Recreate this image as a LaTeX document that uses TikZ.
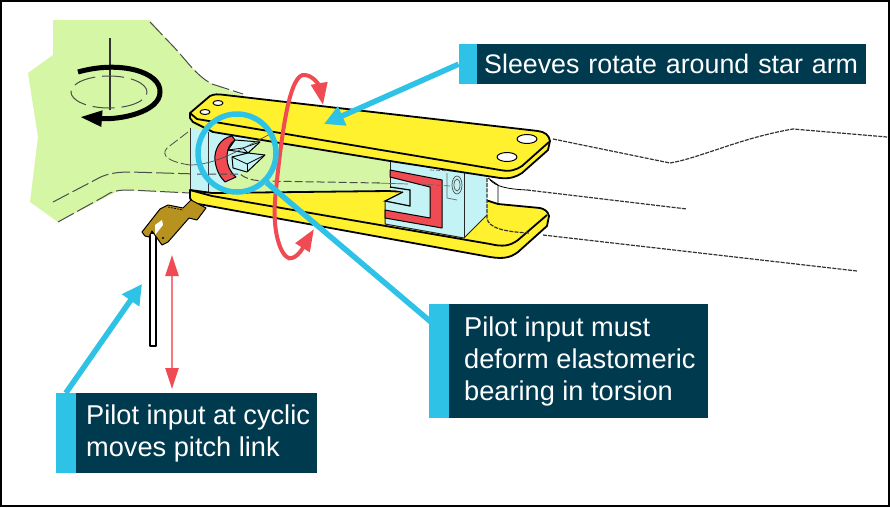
\documentclass[tikz,border=0pt]{standalone}
\usepackage{fontspec}
\setmainfont{Liberation Sans}
\usetikzlibrary{positioning,arrows.meta,shapes,backgrounds,fit}
\definecolor{hubgreen}{HTML}{D5F6A4}
\definecolor{armyellow}{HTML}{FFF12E}
\definecolor{bearingred}{HTML}{F04B52}
\definecolor{blockblue}{HTML}{C4F3F6}
\definecolor{hornbrown}{HTML}{B8921F}
\definecolor{calloutcyan}{HTML}{2EC3E6}
\definecolor{calloutnavy}{HTML}{003A4F}
\begin{document}
\begin{tikzpicture}[
        x=1pt, y=-1pt,
        part/.style={draw=black, line width=1.8pt, line join=round},
        dashline/.style={draw=black!80, line width=1.2pt, dash pattern=on 4pt off 1.2pt},
        longdash/.style={draw=black!70, line width=1pt, dash pattern=on 18pt off 4pt},
        callout/.style={fill=calloutnavy, text=white, font=\fontsize{27.2}{32}\selectfont, align=left, inner sep=0pt, anchor=north west},
        calloutbar/.style={fill=calloutcyan, inner sep=0pt, minimum width=18pt},
        calloutarrow/.style={draw=calloutcyan, line width=5.5pt, -{Triangle[width=20pt,length=20pt]}},
        redarrow/.style={draw=bearingred, line width=4pt, -{Triangle[width=16pt,length=22pt]}}
    ]
    \useasboundingbox (0,0) rectangle (890,507);
    \fill[white] (0,0) rectangle (890,507);

    % Hub
    \fill[hubgreen] (53,20) -- (150,20) -- (170,43) .. controls (185,58) and (195,75) .. (212,84) -- (250,98) -- (250,190) -- (190,193) -- (120,190) -- (58,222) -- (30,202) -- (38,137) -- (28,73) -- (53,55) -- cycle;
    \draw[longdash] (150,22) -- (170,43) .. controls (185,58) and (195,75) .. (212,84) -- (243,94);
    \draw[longdash] (53,202) -- (95,180) .. controls (105,174) and (115,172) .. (130,172) -- (197,174);
    \draw[longdash] (58,222) -- (105,196) .. controls (112,191) and (118,190) .. (130,190) -- (190,193);

    % Rotation sign
    \draw[black!80, line width=1.2pt] (110,38) -- (110,110);
    \draw[longdash, dash pattern=on 22pt off 7pt] (109,92) ellipse (38pt and 16pt);
    \draw[line width=5pt, -{Triangle[width=15pt,length=22pt]}] (78,72) .. controls (120,60) and (161,72) .. (160,92) .. controls (160,112) and (120,120) .. (80,117);

    % Sleeve opening
    \fill[hubgreen] (205,125) -- (395,160) -- (395,195) -- (205,195) -- cycle;
    \fill[blockblue] (190,128) -- (250,137) -- (240,175) -- (222,186) -- (208,195) -- (190,198) -- cycle;
    \draw[black!80, line width=0.8pt] (190,128) -- (190,198);
    \draw[black!80, line width=0.8pt] (208,132) -- (208,195);

    % Lower arm
    \draw[part, fill=armyellow] (190,190) -- (190,198) -- (193,203) -- (490,257) .. controls (503,259) and (510,258) .. (518,252) -- (547,226) -- (549,216) .. controls (548,211) and (544,209) .. (540,208) -- (498,204) -- (470,195) -- (388,191) -- (212,193) -- cycle;
    \draw[part] (190,190) -- (212,196) -- (490,244) .. controls (503,247) and (510,246) .. (518,240) -- (547,215);

    % Spindle block
    \path[fill=blockblue] (390,161) -- (463,173) -- (487,177) -- (487,215) -- (464,238) -- (385,224) -- (385,201) -- (403,192) -- (390,188) -- cycle;
    \draw[black!85, line width=1pt] (390,161) -- (390,188);
    \draw[black!85, line width=1pt] (385,201) -- (385,224) -- (464,238) -- (487,215);
    \draw[black!85, line width=1pt] (464,173) -- (464,238);
    \draw[part, fill=bearingred, line width=1pt] (390,170) -- (442,180) -- (442,228) -- (385,218) -- (385,210) -- (430,218) -- (430,187) -- (390,177) -- cycle;
    \draw[black, line width=1.2pt] (390,187) -- (410,190) -- (410,206) -- (385,201) -- (403,192);
    \draw[black!70, line width=0.7pt] (457,185) ellipse (5pt and 9pt);
    \draw[black!70, line width=0.7pt] (457,185) ellipse (3pt and 6pt);
    \draw[black!60, line width=0.7pt] (447,173) -- (447,198) -- (457,200);
    \draw[black!60, line width=0.7pt, dash pattern=on 4pt off 2pt] (430,170) -- (452,171);
    \draw[black!60, line width=0.7pt] (377,183) -- (408,184);
    \draw[black!60, line width=0.7pt, dash pattern=on 6pt off 2pt] (420,184) -- (450,186);

    % Thin and dashed detail on the right
    \draw[black, line width=0.8pt] (488,178) -- (498,185) -- (498,204);
    \draw[black, line width=0.8pt] (490,180) .. controls (496,186) and (505,189) .. (527,190);
    \draw[dashline] (527,190) -- (687,209);
    \draw[dashline] (487,178) -- (487,218) .. controls (488,228) and (505,232) .. (530,233);
    \draw[dashline] (543,235) -- (857,271);
    \draw[dashline] (553,139) -- (670,163) .. controls (700,158) and (740,138) .. (793,129) -- (887,137);

    % Upper arm
    \draw[part, fill=armyellow] (190,113) -- (190,118) -- (193,122) -- (213,132) -- (390,161) -- (500,178) .. controls (510,179) and (516,177) .. (522,173) -- (548,150) -- (550,141) .. controls (549,135) and (545,132) .. (538,131) -- (225,95) .. controls (218,94) and (214,94) .. (210,96) -- cycle;
    \draw[part] (190,113) -- (197,119) -- (500,170) .. controls (510,172) and (516,170) .. (522,166) -- (549,142);
    \draw[part, fill=white, line width=1pt] (218,103) ellipse (5pt and 2.5pt);
    \draw[part, fill=white, line width=1pt] (205,112) ellipse (5pt and 2.5pt);
    \draw[part, fill=white, line width=1pt] (527,139) ellipse (10pt and 4.5pt);
    \draw[part, fill=white, line width=1pt] (507,157) ellipse (10pt and 4.5pt);

    % Bearing under the ring
    \draw[part, fill=bearingred, line width=1pt] (232,136) .. controls (220,138) and (214,150) .. (215,160) .. controls (216,170) and (220,177) .. (225,182) -- (236,177) .. controls (230,172) and (227,165) .. (227,158) .. controls (227,150) and (229,144) .. (235,140) -- cycle;
    \draw[part, fill=blockblue, line width=1pt] (228,150) -- (235,140) -- (260,142) -- (248,153) -- (265,155) -- (247,172) -- (233,168) -- (232,157) -- (248,153) -- cycle;
    \draw[black, line width=0.8pt] (228,150) -- (243,148) -- (260,142);
    \draw[black, line width=0.8pt] (243,148) -- (248,153);
    \draw[black, line width=0.8pt] (232,157) -- (247,164) -- (265,155);
    \draw[black, line width=0.8pt] (247,164) -- (247,172);
    \draw[black!70, line width=0.7pt] (190,165) .. controls (215,165) and (240,150) .. (272,133);
    \draw[longdash, dash pattern=on 8pt off 3pt] (197,174) -- (240,174) .. controls (245,178) and (250,180) .. (262,181) -- (380,183);
    \draw[black!70, dash pattern=on 10pt off 3pt, line width=0.8pt] (188,132) -- (167,148) .. controls (160,156) and (170,162) .. (190,165);

    % Pitch horn and link
    \draw[part, fill=white, line width=1.1pt] (150,233) rectangle (156,346);
    \draw[black, line width=1pt, fill=hornbrown, line join=round] (142,232) -- (160,209) -- (168,205) -- (183,208) -- (191,200) -- (206,208) -- (197,220) -- (189,218) -- (168,242) -- (162,245) -- (157,238) -- (152,231) -- (149,237) -- (145,236) -- cycle;
    \fill[white] (155,225) -- (162,220) -- (163,225) -- (155,235) -- cycle;
    \draw[black, line width=0.7pt, dash pattern=on 2pt off 1pt] (168,207) -- (183,210);
    \fill[black] (163,238) circle (1.2pt);

    % Red motion arrows
    \draw[redarrow] (276,190) .. controls (282,130) and (290,72) .. (305,75) .. controls (315,76) and (320,88) .. (323,105);
    \draw[redarrow] (276,190) .. controls (270,240) and (285,262) .. (292,258) .. controls (300,256) and (306,242) .. (314,229);
    \draw[draw=bearingred!75, line width=2.4pt, {Triangle[width=13pt,length=21pt,color=bearingred]}-{Triangle[width=13pt,length=21pt,color=bearingred]}] (172,255) -- (172,389);

    % Magnifier ring
    \node[circle, draw=calloutcyan, line width=5.5pt, minimum size=78pt, inner sep=0pt] (ring) at (237,153) {};

    % Callouts
    \node[callout, minimum width=389pt, minimum height=40pt, text width=389pt, text depth=0pt, font=\fontsize{26.8}{32}\selectfont] (sleeves) at (477,44) {\hspace*{7pt}Sleeves rotate around star arm};
    \node[calloutbar, minimum height=40pt, left=0pt of sleeves] (bar_sleeves) {};

    \node[callout, minimum width=259pt, minimum height=114pt] (bearing) at (449,304) {\parbox{259pt}{\leftskip=15pt Pilot input must\\ deform elastomeric\\ bearing in torsion}};
    \node[calloutbar, minimum height=114pt, minimum width=20pt, left=0pt of bearing] (bar_bearing) {};
    \coordinate (bearing_end) at (431,322);

    \node[callout, minimum width=241pt, minimum height=80pt] (cyclic) at (76,393) {\parbox{241pt}{\leftskip=10pt Pilot input at cyclic\\ moves pitch link}};
    \node[calloutbar, minimum height=80pt, minimum width=20pt, left=0pt of cyclic] (bar_cyclic) {};

    % Connect callouts
    \coordinate (sleeves_tip) at (324,124);
    \coordinate (link_tip) at (142,284);
    \draw[calloutarrow] (bar_sleeves.west) -- (sleeves_tip);
    \draw[calloutarrow] (bar_cyclic.north) -- (link_tip);
    \draw[draw=calloutcyan, line width=5.5pt] (ring.south east) -- (bearing_end);

    % Frame
    \draw[black, line width=2pt] (1,1) rectangle (889,506);
    \end{tikzpicture}
\end{document}
